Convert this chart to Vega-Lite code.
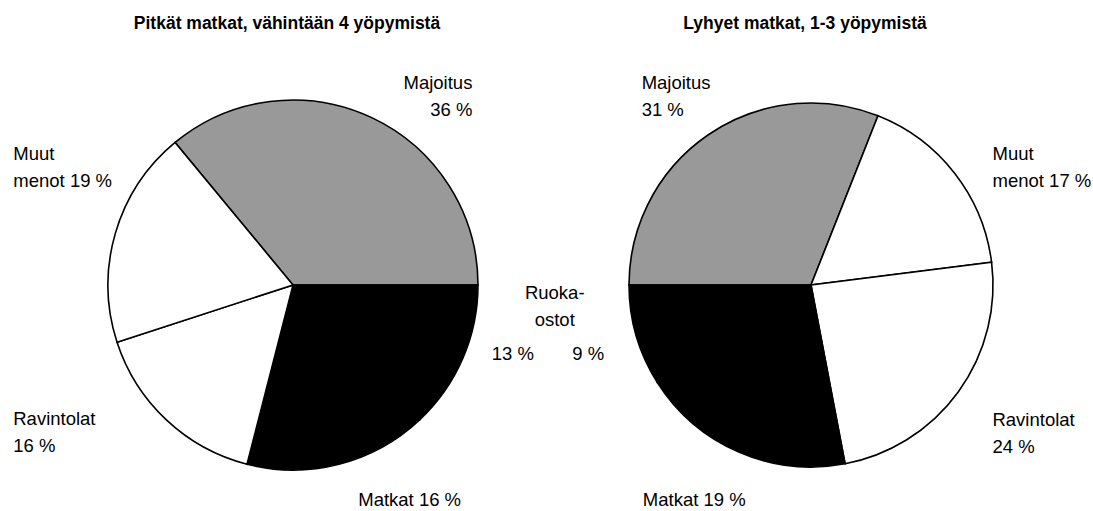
{
  "$schema": "https://vega.github.io/schema/vega-lite/v6.json",
  "width": 1093,
  "height": 511,
  "autosize": "none",
  "padding": 0,
  "background": "white",
  "config": {
    "view": {"stroke": null},
    "font": "Liberation Sans",
    "text": {"font": "Liberation Sans", "fontSize": 18.5, "lineHeight": 27, "color": "black"}
  },
  "datasets": {
    "pitkat": [
      {"cat": "Majoitus", "pct": 36, "o": 1, "label": "Majoitus\n36 %"},
      {"cat": "Ruokaostot", "pct": 13, "o": 2, "label": "13 %"},
      {"cat": "Matkat", "pct": 16, "o": 3, "label": "Matkat 16 %"},
      {"cat": "Ravintolat", "pct": 16, "o": 4, "label": "Ravintolat\n16 %"},
      {"cat": "Muut menot", "pct": 19, "o": 5, "label": "Muut\nmenot 19 %"}
    ],
    "lyhyet": [
      {"cat": "Majoitus", "pct": 31, "o": 1, "label": "Majoitus\n31 %"},
      {"cat": "Muut menot", "pct": 17, "o": 2, "label": "Muut\nmenot 17 %"},
      {"cat": "Ravintolat", "pct": 24, "o": 3, "label": "Ravintolat\n24 %"},
      {"cat": "Matkat", "pct": 19, "o": 4, "label": "Matkat 19 %"},
      {"cat": "Ruokaostot", "pct": 9, "o": 5, "label": "9 %"}
    ],
    "otsikot": [
      {"pie": "Pitkät", "title": "Pitkät matkat, vähintään 4 yöpymistä"},
      {"pie": "Lyhyet", "title": "Lyhyet matkat, 1-3 yöpymistä"}
    ]
  },
  "resolve": {"scale": {"theta": "independent"}},
  "layer": [
    {
      "data": {"name": "pitkat"},
      "encoding": {
        "x": {"datum": "Pitkät", "type": "nominal", "axis": null, "scale": {"type": "point", "domain": ["Pitkät", "Lyhyet"], "range": [293, 811], "padding": 0}},
        "y": {"datum": "Pitkät", "type": "nominal", "axis": null, "scale": {"type": "point", "domain": ["Pitkät", "Lyhyet"], "range": [285, 285], "padding": 0}},
        "theta": {"field": "pct", "type": "quantitative", "stack": true, "scale": {"range": [-0.69115, 5.592035]}},
        "order": {"field": "o", "type": "quantitative"}
      },
      "layer": [
        {
          "mark": {"type": "arc", "radius": 185, "stroke": "black", "strokeWidth": 1.6},
          "encoding": {
            "color": {"field": "cat", "type": "nominal", "legend": null,
              "scale": {"domain": ["Majoitus", "Muut menot", "Ravintolat", "Matkat", "Ruokaostot"], "range": ["#999999", "white", "white", "black", "black"]}}
          }
        },
        {
          "mark": {"type": "text", "radius": 210, "dx": 90, "dy": -21, "align": "right", "baseline": "top", "lineBreak": "\n"},
          "encoding": {"text": {"condition": {"test": "datum.cat === 'Majoitus'", "field": "label", "type": "nominal"}, "value": ""}}
        },
        {
          "mark": {"type": "text", "radius": 210, "dx": -78, "dy": -81, "align": "left", "baseline": "top", "lineBreak": "\n"},
          "encoding": {"text": {"condition": {"test": "datum.cat === 'Muut menot'", "field": "label", "type": "nominal"}, "value": ""}}
        },
        {
          "mark": {"type": "text", "radius": 210, "dx": -136, "dy": -28, "align": "left", "baseline": "top", "lineBreak": "\n"},
          "encoding": {"text": {"condition": {"test": "datum.cat === 'Ravintolat'", "field": "label", "type": "nominal"}, "value": ""}}
        },
        {
          "mark": {"type": "text", "radius": 210, "dx": 13, "dy": 3, "align": "left", "baseline": "top", "lineBreak": "\n"},
          "encoding": {"text": {"condition": {"test": "datum.cat === 'Matkat'", "field": "label", "type": "nominal"}, "value": ""}}
        },
        {
          "mark": {"type": "text", "radius": 210, "dx": 6, "dy": -23, "align": "left", "baseline": "top", "lineBreak": "\n"},
          "encoding": {"text": {"condition": {"test": "datum.cat === 'Ruokaostot'", "field": "label", "type": "nominal"}, "value": ""}}
        },
        {
          "mark": {"type": "text", "radius": 210, "dx": 69, "dy": -84, "align": "center", "baseline": "top", "lineBreak": "\n"},
          "encoding": {"text": {"condition": {"test": "datum.cat === 'Ruokaostot'", "value": "Ruoka-\nostot"}, "value": ""}}
        }
      ]
    },
    {
      "data": {"name": "lyhyet"},
      "encoding": {
        "x": {"datum": "Lyhyet", "type": "nominal", "axis": null},
        "y": {"datum": "Lyhyet", "type": "nominal", "axis": null},
        "theta": {"field": "pct", "type": "quantitative", "stack": true, "scale": {"range": [-1.570796, 4.712389]}},
        "order": {"field": "o", "type": "quantitative"}
      },
      "layer": [
        {
          "mark": {"type": "arc", "radius": 182, "stroke": "black", "strokeWidth": 1.6},
          "encoding": {
            "color": {"field": "cat", "type": "nominal", "legend": null}
          }
        },
        {
          "mark": {"type": "text", "radius": 207, "dx": -53, "dy": -40, "align": "left", "baseline": "top", "lineBreak": "\n"},
          "encoding": {"text": {"condition": {"test": "datum.cat === 'Majoitus'", "field": "label", "type": "nominal"}, "value": ""}}
        },
        {
          "mark": {"type": "text", "radius": 207, "dx": 18, "dy": -13, "align": "left", "baseline": "top", "lineBreak": "\n"},
          "encoding": {"text": {"condition": {"test": "datum.cat === 'Muut menot'", "field": "label", "type": "nominal"}, "value": ""}}
        },
        {
          "mark": {"type": "text", "radius": 207, "dx": 14, "dy": 4, "align": "left", "baseline": "top", "lineBreak": "\n"},
          "encoding": {"text": {"condition": {"test": "datum.cat === 'Ravintolat'", "field": "label", "type": "nominal"}, "value": ""}}
        },
        {
          "mark": {"type": "text", "radius": 207, "dx": -86, "dy": 16, "align": "left", "baseline": "top", "lineBreak": "\n"},
          "encoding": {"text": {"condition": {"test": "datum.cat === 'Matkat'", "field": "label", "type": "nominal"}, "value": ""}}
        },
        {
          "mark": {"type": "text", "radius": 207, "dx": -40, "dy": 2, "align": "left", "baseline": "top", "lineBreak": "\n"},
          "encoding": {"text": {"condition": {"test": "datum.cat === 'Ruokaostot'", "field": "label", "type": "nominal"}, "value": ""}}
        }
      ]
    },
    {
      "data": {"name": "otsikot"},
      "mark": {"type": "text", "fontSize": 17.5, "fontWeight": "bold", "align": "center", "baseline": "top", "dx": -6, "dy": -270},
      "encoding": {
        "x": {"field": "pie", "type": "nominal", "axis": null},
        "y": {"field": "pie", "type": "nominal", "axis": null},
        "text": {"field": "title", "type": "nominal"}
      }
    }
  ]
}
